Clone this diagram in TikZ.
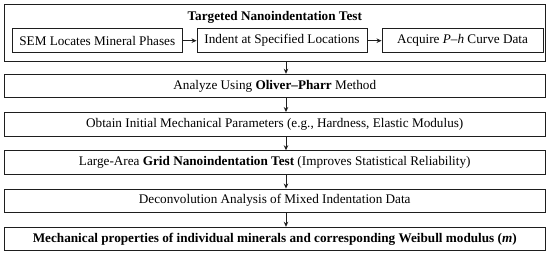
\documentclass[tikz,border=0pt]{standalone}
\usepackage{fontspec}
\setmainfont{Liberation Serif}
\usetikzlibrary{arrows.meta, positioning, calc}
\definecolor{inkline}{HTML}{1E1E1E}
\definecolor{inktext}{HTML}{000000}
\newcommand{\rowbox}[3]{%
  \node[draw=inkline, line width=0.9pt, fill=white,
        minimum width=541pt, minimum height=23.5pt, inner sep=0pt,
        text=inktext] (#1) at (274.75,#2) {#3};}
\newcommand{\subbox}[4]{%
  \node[draw=inkline, line width=0.9pt, fill=white,
        minimum width=#3, minimum height=24pt, inner sep=0pt,
        text=inktext] (#1) at (#2,215.3) {#4};}

\begin{document}
\begin{tikzpicture}[x=1pt, y=1pt, font=\fontsize{13.2}{15}\selectfont]
      \useasboundingbox (0,0) rectangle (550,256);
      % targeted test group
      \node[draw=inkline, line width=0.9pt, minimum width=541.5pt,
            minimum height=57.7pt, inner sep=0pt] (grp) at (274.75,223.15) {};
      \node[text=inktext, inner sep=0pt] (grptitle) at (274.75,239)
            {\textbf{Targeted Nanoindentation Test}};
      \subbox{g1}{97.25}{170pt}{SEM Locates Mineral Phases}
      \subbox{g2}{282}{170pt}{Indent at Specified Locations}
      \subbox{g3}{462.5}{161pt}{Acquire \textit{P}–\textit{h} Curve Data}
      \draw[-{Stealth[length=5pt, width=4.5pt]}, inkline, line width=1pt] (g1) -- (g2);
      \draw[-{Stealth[length=5pt, width=4.5pt]}, inkline, line width=1pt] (g2) -- (g3);
      % main steps
      \rowbox{r1}{170}{Analyze Using \textbf{Oliver–Pharr} Method}
      \rowbox{r2}{131.75}{Obtain Initial Mechanical Parameters (e.g., Hardness, Elastic Modulus)}
      \rowbox{r3}{93.5}{Large-Area \textbf{Grid Nanoindentation Test} (Improves Statistical Reliability)}
      \rowbox{r4}{55.25}{Deconvolution Analysis of Mixed Indentation Data}
      \rowbox{r5}{17}{\textbf{Mechanical properties of individual minerals and corresponding Weibull modulus (\textit{m})}}
      \coordinate (ax) at (286,0);
      \draw[-{Stealth[length=5pt, width=4.5pt]}, inkline, line width=1pt] (grp.south -| ax) -- (r1.north -| ax);
      \draw[-{Stealth[length=5pt, width=4.5pt]}, inkline, line width=1pt] (r1.south -| ax) -- (r2.north -| ax);
      \draw[-{Stealth[length=5pt, width=4.5pt]}, inkline, line width=1pt] (r2.south -| ax) -- (r3.north -| ax);
      \draw[-{Stealth[length=5pt, width=4.5pt]}, inkline, line width=1pt] (r3.south -| ax) -- (r4.north -| ax);
      \draw[-{Stealth[length=5pt, width=4.5pt]}, inkline, line width=1pt] (r4.south -| ax) -- (r5.north -| ax);
    \end{tikzpicture}
\end{document}
